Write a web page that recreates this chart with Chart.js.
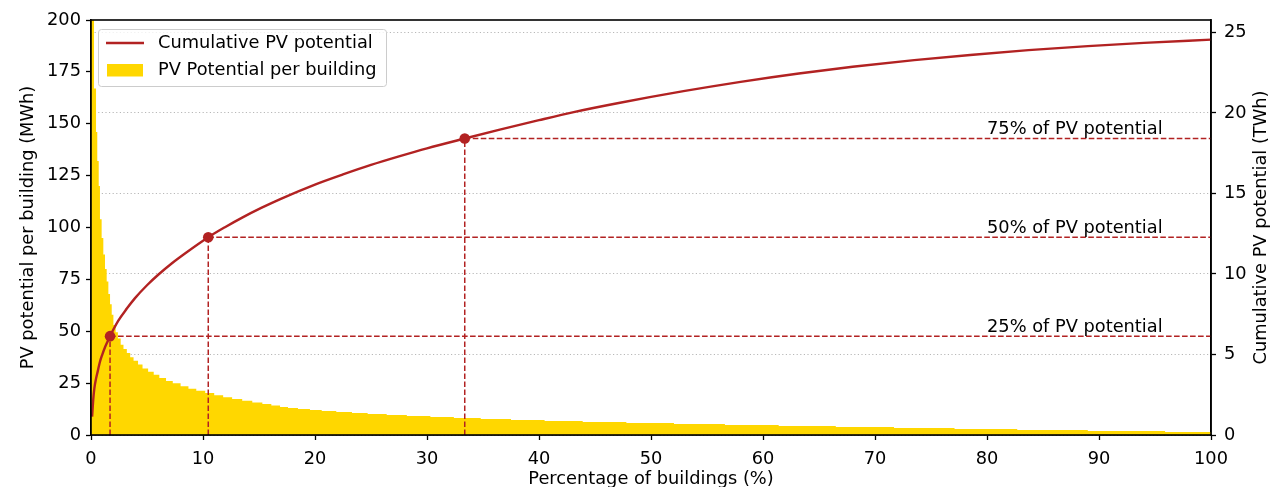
<!DOCTYPE html>
<html>
<head>
<meta charset="utf-8">
<script src="https://cdn.jsdelivr.net/npm/chart.js@4.4.1/dist/chart.umd.min.js"></script>
<style>
  html, body { margin: 0; padding: 0; background: #ffffff; }
  #wrap { width: 1270px; height: 487px; position: relative; }
</style>
</head>
<body>
<div id="wrap"><canvas id="pvChart"></canvas></div>
<script>
// Buildings sorted by PV potential: share of buildings (%) where each step starts
const buildingShare = [
  0, 0.27, 0.45, 0.56, 0.69, 0.80, 0.95, 1.10, 1.25, 1.40, 1.55, 1.70, 1.85, 2.0,
  2.2, 2.4, 2.65, 2.9, 3.2, 3.5, 3.8, 4.2, 4.6, 5.1, 5.6, 6.1, 6.7, 7.3, 8.0, 8.7,
  9.4, 10.2, 11.0, 11.8, 12.6, 13.5, 14.4, 15.3, 16.1, 16.88, 17.59, 18.48, 19.55,
  20.6, 21.9, 23.3, 24.7, 26.4, 28.2, 30.3, 32.4, 34.8, 37.5, 40.5, 43.9, 47.8,
  52.05, 56.6, 61.4, 66.5, 71.7, 77.1, 82.7, 89.0, 95.9, 100
];
// PV potential per building (MWh) for each step
const potentialPerBuilding = [
  230, 167, 146, 132, 120, 104, 95, 87, 80, 74, 68, 63, 58, 53,
  49.5, 46.5, 43.5, 41.5, 39.5, 37.5, 35.8, 34, 32, 30.5, 29, 27.5, 26, 25, 23.5, 22.3,
  21.3, 20.2, 19.2, 18.2, 17.3, 16.5, 15.7, 15.0, 14.2, 13.5, 13.0, 12.5, 12.05,
  11.57, 11.08, 10.6, 10.1, 9.64, 9.16, 8.67, 8.19, 7.71, 7.23, 6.75, 6.27, 5.78,
  5.3, 4.82, 4.34, 3.86, 3.37, 2.89, 2.41, 1.93, 1.45, 1.45
];

// Cumulative PV potential (TWh) against share of buildings (%)
const cumulativeShare = [
  0.1, 0.2, 0.3, 0.45, 0.6, 0.8, 1.0, 1.25, 1.5, 1.7, 2.44, 3.2, 3.93, 5.0, 6.0, 7.2,
  8.39, 10.47, 12.0, 13.5, 15.2, 16.9, 20.0, 22.5, 25.0, 27.5, 30.0, 33.37, 36.5,
  40.0, 43.1, 47.0, 52.9, 58.0, 63.2, 68.0, 73.5, 78.5, 83.7, 89.0, 94.0, 100
];
const cumulativeTWh = [
  1.14, 2.2, 2.9, 3.5, 3.95, 4.55, 4.98, 5.45, 5.84, 6.14, 7.1, 7.85, 8.5, 9.3, 9.95, 10.65,
  11.27, 12.28, 12.92, 13.5, 14.1, 14.65, 15.55, 16.18, 16.77, 17.3, 17.8, 18.41, 18.96,
  19.55, 20.05, 20.6, 21.35, 21.93, 22.45, 22.87, 23.28, 23.6, 23.9, 24.15, 24.35, 24.55
];

// Thresholds of the total potential and the building share where they are reached
const totalTWh = 24.55;
const thresholdPercent = [25, 50, 75];
const thresholdBuildingShare = [1.70, 10.47, 33.37];
const thresholdTWh = thresholdPercent.map(p => totalTWh * p / 100);

// Tick values
const xTickValues = [0, 10, 20, 30, 40, 50, 60, 70, 80, 90, 100];
const leftTickValues = [0, 25, 50, 75, 100, 125, 150, 175, 200];
const rightTickValues = [0, 5, 10, 15, 20, 25];

const RED = '#b22222';
const GOLD = '#ffd700';
const FONT = 'DejaVu Sans';
const FSIZE = 17.8;

Chart.defaults.font.family = FONT;
Chart.defaults.font.size = FSIZE;
Chart.defaults.color = '#000000';

const setTicks = values => scale => { scale.ticks = values.map(v => ({ value: v })); };

const dashedSegments = [];
thresholdBuildingShare.forEach((s, i) => {
  dashedSegments.push({
    type: 'line', yAxisID: 'y1', order: 3,
    data: [{ x: s, y: thresholdTWh[i] }, { x: 100, y: thresholdTWh[i] }],
    borderColor: RED, borderWidth: 1.5, borderDash: [5.6, 2.4], pointRadius: 0, fill: false
  });
  dashedSegments.push({
    type: 'line', yAxisID: 'y1', order: 3,
    data: [{ x: s, y: 0 }, { x: s, y: thresholdTWh[i] }],
    borderColor: RED, borderWidth: 1.5, borderDash: [5.6, 2.4], pointRadius: 0, fill: false
  });
});

// Frame, legend, threshold labels and right axis title
const decorations = {
  id: 'decorations',
  afterDatasetsDraw(chart) {
    const { ctx, chartArea: a, scales } = chart;
    ctx.save();
    ctx.strokeStyle = '#000000';
    ctx.lineWidth = 1.6;
    ctx.strokeRect(a.left, a.top, a.right - a.left, a.bottom - a.top);

    // threshold labels
    ctx.font = `${FSIZE}px "${FONT}"`;
    ctx.fillStyle = '#000000';
    ctx.textAlign = 'left';
    ctx.textBaseline = 'alphabetic';
    thresholdPercent.forEach((p, i) => {
      const x = scales.x.getPixelForValue(80);
      const y = scales.y1.getPixelForValue(thresholdTWh[i]) - 4.5;
      ctx.fillText(`${p}% of PV potential`, x, y);
    });

    // legend
    const lx = 98.5, ly = 29.5, lw = 288, lh = 57, r = 3;
    ctx.beginPath();
    ctx.moveTo(lx + r, ly);
    ctx.arcTo(lx + lw, ly, lx + lw, ly + lh, r);
    ctx.arcTo(lx + lw, ly + lh, lx, ly + lh, r);
    ctx.arcTo(lx, ly + lh, lx, ly, r);
    ctx.arcTo(lx, ly, lx + lw, ly, r);
    ctx.closePath();
    ctx.fillStyle = 'rgba(255,255,255,0.8)';
    ctx.fill();
    ctx.strokeStyle = '#cccccc';
    ctx.lineWidth = 1;
    ctx.stroke();

    ctx.strokeStyle = RED;
    ctx.lineWidth = 2.4;
    ctx.beginPath();
    ctx.moveTo(106, 43);
    ctx.lineTo(144, 43);
    ctx.stroke();
    ctx.fillStyle = GOLD;
    ctx.fillRect(107, 64, 36, 12.5);

    ctx.fillStyle = '#000000';
    ctx.textBaseline = 'middle';
    ctx.fillText('Cumulative PV potential', 158, 43);
    ctx.fillText('PV Potential per building', 158, 70);

    // right axis title
    ctx.translate(1261, (a.top + a.bottom) / 2);
    ctx.rotate(-Math.PI / 2);
    ctx.textAlign = 'center';
    ctx.textBaseline = 'middle';
    ctx.fillText('Cumulative PV potential (TWh)', 0, 0);
    ctx.restore();
  }
};

new Chart(document.getElementById('pvChart'), {
  type: 'line',
  data: {
    datasets: [
      {
        label: 'Cumulative PV potential threshold',
        type: 'line', yAxisID: 'y1', order: 1,
        data: thresholdBuildingShare.map((s, i) => ({ x: s, y: thresholdTWh[i] })),
        showLine: false, pointRadius: 5.3, pointHoverRadius: 5.3,
        pointBackgroundColor: RED, pointBorderColor: RED, pointBorderWidth: 0
      },
      {
        label: 'Cumulative PV potential',
        yAxisID: 'y1', order: 2,
        data: cumulativeShare.map((s, i) => ({ x: s, y: cumulativeTWh[i] })),
        borderColor: RED, borderWidth: 2.4, pointRadius: 0, fill: false,
        cubicInterpolationMode: 'monotone'
      },
      ...dashedSegments,
      {
        label: 'PV Potential per building',
        yAxisID: 'y', order: 5,
        data: buildingShare.map((s, i) => ({ x: s, y: potentialPerBuilding[i] })),
        stepped: 'before', borderWidth: 0, borderColor: GOLD,
        backgroundColor: GOLD, fill: 'origin', pointRadius: 0
      }
    ]
  },
  options: {
    responsive: true,
    maintainAspectRatio: false,
    animation: false,
    devicePixelRatio: 1,
    layout: { padding: { top: 20, left: 0, right: 0, bottom: 0 } },
    plugins: { legend: { display: false }, tooltip: { enabled: false } },
    scales: {
      x: {
        type: 'linear', position: 'bottom', min: 0, max: 100,
        afterBuildTicks: setTicks(xTickValues),
        afterFit: s => { s.height = 52; },
        grid: { drawOnChartArea: false, drawTicks: true, tickLength: 5, tickColor: '#000', tickWidth: 1.3 },
        border: { display: true, color: '#000', width: 1.6 },
        ticks: { padding: 9, color: '#000', maxRotation: 0, autoSkip: false },
        title: { display: true, text: 'Percentage of buildings (%)', color: '#000', padding: { top: 0, bottom: -3 } }
      },
      y: {
        type: 'linear', position: 'left', min: 0, max: 200,
        afterBuildTicks: setTicks(leftTickValues),
        afterFit: s => { s.width = 91; },
        grid: { drawOnChartArea: false, drawTicks: true, tickLength: 5, tickColor: '#000', tickWidth: 1.3 },
        border: { display: true, color: '#000', width: 1.6 },
        ticks: { padding: 5, color: '#000', autoSkip: false },
        title: { display: true, text: 'PV potential per building (MWh)', color: '#000', padding: { top: 17.3, bottom: 0 } }
      },
      y1: {
        type: 'linear', position: 'right', min: 0, max: 25.77,
        afterBuildTicks: setTicks(rightTickValues),
        afterFit: s => { s.width = 59; },
        grid: { drawOnChartArea: true, drawTicks: true, tickLength: 5, color: '#b8b8b8', lineWidth: 1,
                tickColor: '#000', tickWidth: 1.3, tickBorderDash: [] },
        border: { display: true, color: '#000', width: 1.6, dash: [1.2, 2.4] },
        ticks: { padding: 8, color: '#000', autoSkip: false }
      }
    }
  },
  plugins: [decorations]
});
</script>
</body>
</html>
